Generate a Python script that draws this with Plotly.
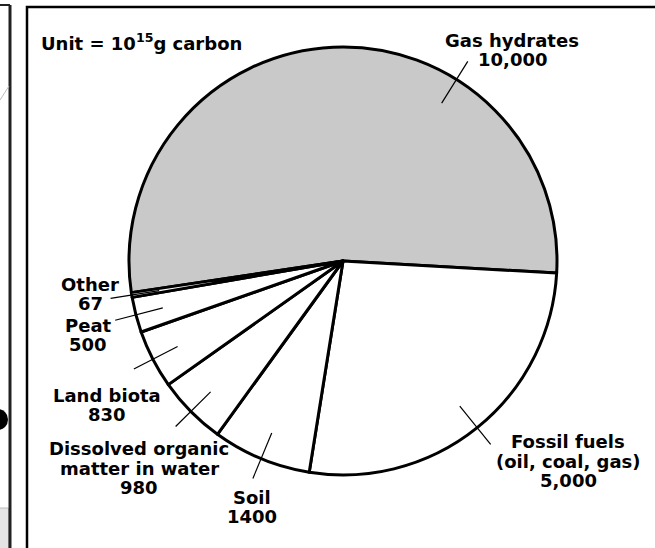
import math
import plotly.graph_objects as go

# Global carbon reservoirs (unit: 10^15 g carbon)
categories = ["Gas hydrates", "Fossil fuels<br>(oil, coal, gas)", "Soil",
              "Dissolved organic<br>matter in water", "Land biota", "Peat", "Other"]
values = [10000, 5000, 1400, 980, 830, 500, 67]
value_labels = ["10,000", "5,000", "1400", "980", "830", "500", "67"]
slice_colors = ["#c9c9c9", "#ffffff", "#ffffff", "#ffffff", "#ffffff", "#ffffff", "#ffffff"]

W, H = 655, 548
CX, CY, R = 343, 261, 214          # pie centre / radius in pixels
START = 188.5                      # math angle where the first slice begins (clockwise)
FONT = "DejaVu Sans"
FSIZE = 18
LINE_GAP = 19.5                    # pixel distance between label lines

# label block centres (pixels) and leader-line angle overrides
label_xy = [(512, 50), (568, 461), (252, 507), (139, 468), (107, 405), (88, 335), (90, 294)]
leader_override = {0: 58.0}


def fx(x):
    return x / W


def fy(y):
    return 1 - y / H


fig = go.Figure()
fig.add_trace(go.Pie(
    labels=[c.replace("<br>", " ") for c in categories],
    values=values,
    sort=False,
    direction="clockwise",
    rotation=90 - START,
    marker=dict(colors=slice_colors, line=dict(color="black", width=3)),
    textinfo="none",
    hoverinfo="label+value",
    domain=dict(x=[fx(CX - R), fx(CX + R)], y=[fy(CY + R), fy(CY - R)]),
))

shapes = []
annotations = []
label_font = dict(family=FONT, size=FSIZE, color="black", weight="bold")

# leader lines crossing the rim at each slice's mid angle, plus the labels
total = sum(values)
ang = START
for i, v in enumerate(values):
    span = 360.0 * v / total
    mid = ang - span / 2
    ang -= span
    a = math.radians(leader_override.get(i, mid))
    r0, r1 = R * 0.87, R * 1.10
    x0, y0 = CX + r0 * math.cos(a), CY - r0 * math.sin(a)
    x1, y1 = CX + r1 * math.cos(a), CY - r1 * math.sin(a)
    shapes.append(dict(type="line", xref="paper", yref="paper",
                       x0=fx(x0), y0=fy(y0), x1=fx(x1), y1=fy(y1),
                       line=dict(color="black", width=1.2), layer="above"))
    lines = categories[i].split("<br>") + [value_labels[i]]
    lx, ly = label_xy[i]
    n = len(lines)
    for k, line in enumerate(lines):
        yy = ly + (k - (n - 1) / 2) * LINE_GAP
        annotations.append(dict(
            text=line, x=fx(lx), y=fy(yy), xref="paper", yref="paper",
            xanchor="center", yanchor="middle", showarrow=False, font=label_font,
        ))

annotations.append(dict(
    text="Unit = 10<sup>15</sup>g carbon",
    x=fx(39), y=fy(42), xref="paper", yref="paper",
    xanchor="left", yanchor="middle", showarrow=False, font=label_font,
))

# outer frame
shapes.append(dict(type="rect", xref="paper", yref="paper",
                   x0=fx(27), y0=fy(7), x1=fx(680), y1=fy(580),
                   line=dict(color="black", width=2.5), layer="above"))
# neighbouring panel edge at left
shapes.append(dict(type="line", xref="paper", yref="paper",
                   x0=fx(10), y0=fy(5), x1=fx(10), y1=fy(560),
                   line=dict(color="#222222", width=3), layer="above"))
shapes.append(dict(type="line", xref="paper", yref="paper",
                   x0=fx(-5), y0=fy(5), x1=fx(10), y1=fy(5),
                   line=dict(color="#222222", width=2), layer="above"))
shapes.append(dict(type="rect", xref="paper", yref="paper",
                   x0=fx(-5), y0=fy(508), x1=fx(8.5), y1=fy(560),
                   fillcolor="#e4e4e4", line=dict(color="#bbbbbb", width=1), layer="below"))
shapes.append(dict(type="circle", xref="paper", yref="paper",
                   x0=fx(-12), y0=fy(409), x1=fx(8), y1=fy(430),
                   fillcolor="black", line=dict(color="black", width=0), layer="above"))
shapes.append(dict(type="line", xref="paper", yref="paper",
                   x0=fx(0), y0=fy(100), x1=fx(9), y1=fy(86),
                   line=dict(color="#bbbbbb", width=1), layer="above"))

fig.update_layout(
    width=W, height=H,
    margin=dict(l=0, r=0, t=0, b=0),
    paper_bgcolor="white", plot_bgcolor="white",
    showlegend=False,
    shapes=shapes,
    annotations=annotations,
)

fig.write_html("out.html")
